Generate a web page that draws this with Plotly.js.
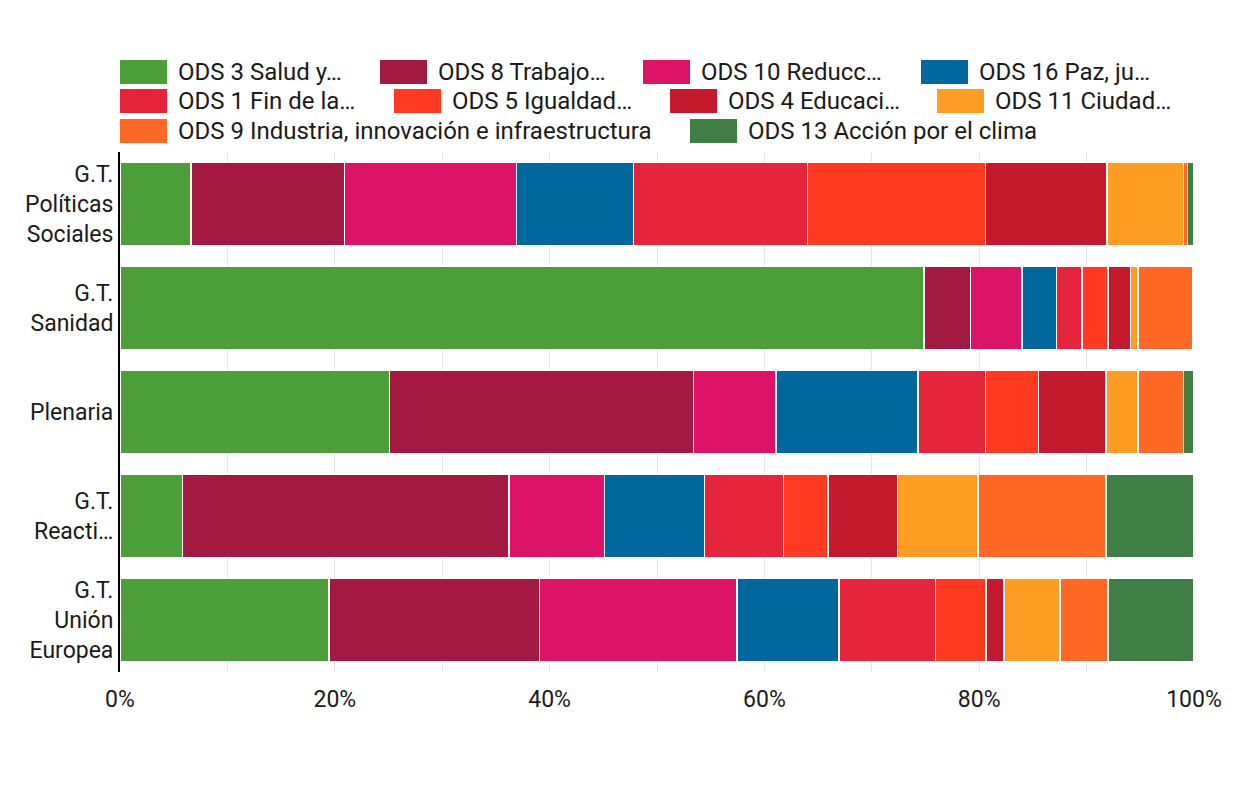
<!DOCTYPE html>
<html>
<head>
<meta charset="utf-8">
<script src="https://cdn.plot.ly/plotly-3.0.1.min.js"></script>
<style>
html,body{margin:0;padding:0;background:#fff;}
#chart{width:1255px;height:787px;}
</style>
</head>
<body>
<div id="chart"></div>
<script>
// ---- Data ----
const categories = ['G.T.<br>Políticas<br>Sociales', 'G.T.<br>Sanidad', 'Plenaria', 'G.T.<br>Reacti…', 'G.T.<br>Unión<br>Europea'];
const seriesNames = ['ODS 3 Salud y…', 'ODS 8 Trabajo…', 'ODS 10 Reducc…', 'ODS 16 Paz, ju…', 'ODS 1 Fin de la…', 'ODS 5 Igualdad…', 'ODS 4 Educaci…', 'ODS 11 Ciudad…', 'ODS 9 Industria, innovación e infraestructura', 'ODS 13 Acción por el clima'];
const ods3  = [6.6, 74.8, 25.1, 5.8, 19.5];
const ods8  = [14.3, 4.3, 28.3, 30.4, 19.6];
const ods10 = [16.0, 4.8, 7.7, 8.9, 18.4];
const ods16 = [10.9, 3.2, 13.2, 9.3, 9.5];
const ods1  = [16.2, 2.4, 6.3, 7.4, 9.0];
const ods5  = [16.6, 2.4, 4.9, 4.1, 4.7];
const ods4  = [11.3, 2.1, 6.3, 6.5, 1.7];
const ods11 = [7.1, 0.7, 3.0, 7.5, 5.2];
const ods9  = [0.4, 5.1, 4.2, 11.9, 4.5];
const ods13 = [0.6, 0.1, 1.0, 8.2, 8.0];
const seriesValues = [ods3, ods8, ods10, ods16, ods1, ods5, ods4, ods11, ods9, ods13];
const xTickVals = [0, 20, 40, 60, 80, 100];
const xTickText = ['0%', '20%', '40%', '60%', '80%', '100%'];

// ---- Styles ----
const colors = ['#4C9F38', '#A21942', '#DD1367', '#00689D', '#E5243B', '#FF3A21', '#C5192D', '#FD9D24', '#FD6925', '#3F7E44'];
const FONT = 'Roboto, "Noto Sans", sans-serif';
const TXT = '#1a1a1a';
const W = 1255, H = 787;
const M = {l: 120, r: 61, t: 152, b: 115};
const plotW = W - M.l - M.r, plotH = H - M.t - M.b;
// legend item positions (pixels: swatch left, row centre)
const legendPos = [[120,72],[380,72],[643,72],[921,72],[120,101],[394,101],[670,101],[937,101],[120,131],[690,131]];
const swW = 47, swH = 24, txtGap = 9;

const px2x = p => (p - M.l) / plotW;
const py2y = p => (H - M.b - p) / plotH;

const traces = seriesNames.map((name, i) => ({
  type: 'bar',
  orientation: 'h',
  name: name,
  y: categories,
  x: seriesValues[i],
  marker: {color: colors[i], line: {color: '#ffffff', width: 1.5}},
  hoverinfo: 'name+x'
}));

const shapes = [], annotations = [];
legendPos.forEach((p, i) => {
  shapes.push({
    type: 'rect', xref: 'paper', yref: 'paper',
    x0: px2x(p[0]), x1: px2x(p[0] + swW),
    y0: py2y(p[1] + swH / 2), y1: py2y(p[1] - swH / 2),
    fillcolor: colors[i], line: {width: 0}
  });
  annotations.push({
    xref: 'paper', yref: 'paper',
    x: px2x(p[0] + swW + txtGap), y: py2y(p[1]),
    xanchor: 'left', yanchor: 'middle',
    text: seriesNames[i], showarrow: false,
    font: {family: FONT, size: 24, color: TXT}
  });
});

const layout = {
  width: W, height: H,
  margin: M,
  barmode: 'stack',
  barnorm: 'percent',
  bargap: 0.2,
  showlegend: false,
  paper_bgcolor: '#fff',
  plot_bgcolor: '#fff',
  font: {family: FONT, size: 24, color: TXT},
  xaxis: {
    range: [0, 100],
    tickvals: xTickVals,
    ticktext: xTickText,
    showgrid: true,
    gridcolor: '#e6e6e6',
    gridwidth: 1,
    minor: {dtick: 10, showgrid: true, gridcolor: '#e6e6e6', gridwidth: 1},
    zeroline: false,
    showline: false,
    ticks: 'outside', ticklen: 6, tickcolor: 'rgba(0,0,0,0)',
    tickfont: {family: FONT, size: 23, color: TXT},
    fixedrange: true
  },
  yaxis: {
    autorange: 'reversed',
    showgrid: false,
    zeroline: false,
    showline: true,
    linecolor: '#000',
    linewidth: 2,
    ticks: '',
    ticklabelstandoff: 0,
    tickfont: {family: FONT, size: 23, color: TXT},
    fixedrange: true
  },
  shapes: shapes,
  annotations: annotations
};

Plotly.newPlot('chart', traces, layout, {displayModeBar: false, responsive: false});
</script>
</body>
</html>
